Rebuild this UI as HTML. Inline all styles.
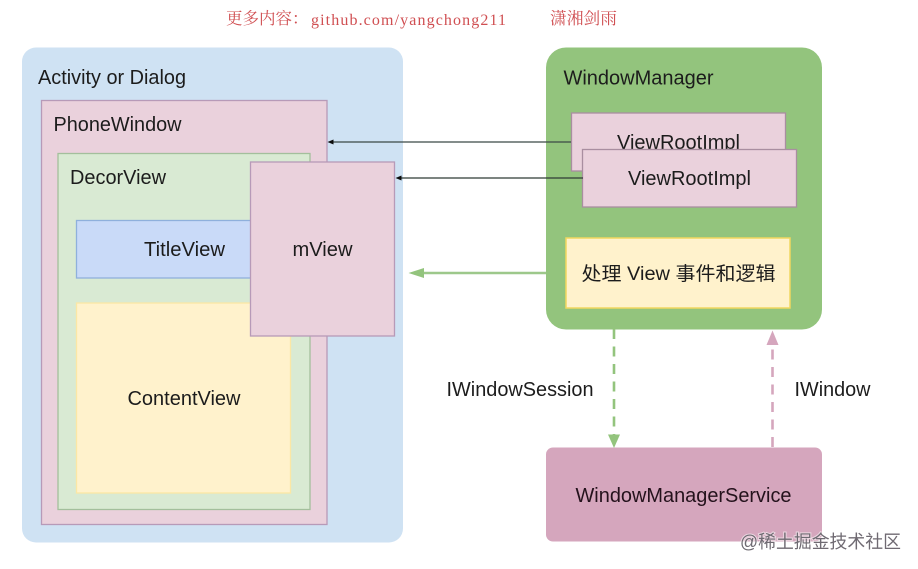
<!DOCTYPE html>
<html><head><meta charset="utf-8"><style>
html,body{margin:0;padding:0;background:#fff;width:918px;height:569px;overflow:hidden}
svg{display:block}
text{font-family:"Liberation Sans","Noto Sans CJK SC",sans-serif;font-size:20px;fill:#1c1c1c}
</style></head><body>
<svg width="918" height="569" viewBox="0 0 918 569" xmlns="http://www.w3.org/2000/svg">
<defs><filter id="b" x="-5%" y="-5%" width="110%" height="110%"><feGaussianBlur stdDeviation="0.35"/></filter></defs>
<g filter="url(#b)">
<rect x="22" y="47.500" width="381" height="495" rx="14" fill="#cfe2f3"/>
<rect x="41.500" y="100.500" width="285.500" height="424" fill="#ead1dc" stroke="#b79ab8" stroke-width="1.300"/>
<rect x="58" y="153.500" width="252" height="356" fill="#d9ead3" stroke="#a3bf9c" stroke-width="1.300"/>
<rect x="76.500" y="220.500" width="190" height="57.500" fill="#c9daf8" stroke="#8fb0dc" stroke-width="1.300"/>
<rect x="76.500" y="303" width="214" height="190" fill="#fff2cc" stroke="#fbe7a5" stroke-width="1.300"/>
<rect x="250.500" y="162" width="144" height="174" fill="#ead1dc" stroke="#b79ab8" stroke-width="1.300"/>
<rect x="546" y="47.500" width="276" height="282" rx="20" fill="#93c47d"/>
<rect x="571.500" y="113" width="214" height="58" fill="#ead1dc" stroke="#a98ea0" stroke-width="1.300"/>
<text x="678.500" y="149" text-anchor="middle" textLength="123" lengthAdjust="spacingAndGlyphs">ViewRootImpl</text>
<rect x="582.500" y="149.500" width="214" height="57.500" fill="#ead1dc" stroke="#a98ea0" stroke-width="1.300"/>
<rect x="566" y="238" width="224" height="70" fill="#fff2cc" stroke="#f1d75f" stroke-width="1.500"/>
<rect x="546" y="447.500" width="276" height="94" rx="7" fill="#d5a6bd"/>
<line x1="571" y1="142" x2="332" y2="142" stroke="#3a4a44" stroke-width="1.300"/>
<polygon points="327.500,142 333.500,139.500 333.500,144.500" fill="#111"/>
<line x1="583" y1="178" x2="400" y2="178" stroke="#2f3b36" stroke-width="1.300"/>
<polygon points="395.500,178 401.500,175.500 401.500,180.500" fill="#111"/>
<line x1="546" y1="273" x2="420" y2="273" stroke="#9dc88b" stroke-width="2.500"/>
<polygon points="408.500,273 424,268 424,278" fill="#93c47d"/>
<line x1="614" y1="329" x2="614" y2="436" stroke="#93c47d" stroke-width="2.600" stroke-dasharray="10 7.500"/>
<polygon points="614,448 608,434.500 620,434.500" fill="#93c47d"/>
<line x1="772.500" y1="447" x2="772.500" y2="342" stroke="#d5a6bd" stroke-width="2.600" stroke-dasharray="10 7.500"/>
<polygon points="772.500,330.500 766.500,345 778.500,345" fill="#d5a6bd"/>
</g>
<text x="38" y="84" textLength="148" lengthAdjust="spacingAndGlyphs">Activity or Dialog</text>
<text x="53.500" y="131" textLength="128" lengthAdjust="spacingAndGlyphs">PhoneWindow</text>
<text x="70" y="184" textLength="96" lengthAdjust="spacingAndGlyphs">DecorView</text>
<text x="144" y="256" textLength="81" lengthAdjust="spacingAndGlyphs">TitleView</text>
<text x="292.500" y="256" textLength="60" lengthAdjust="spacingAndGlyphs">mView</text>
<text x="127.500" y="405" textLength="113" lengthAdjust="spacingAndGlyphs">ContentView</text>
<text x="563.500" y="84.500" textLength="150" lengthAdjust="spacingAndGlyphs">WindowManager</text>
<text x="628" y="185" textLength="123" lengthAdjust="spacingAndGlyphs">ViewRootImpl</text>
<text x="581.500" y="280" textLength="194" lengthAdjust="spacingAndGlyphs" style="font-size:19px">处理 View 事件和逻辑</text>
<text x="446.500" y="396" textLength="147" lengthAdjust="spacingAndGlyphs">IWindowSession</text>
<text x="794.500" y="396" textLength="76" lengthAdjust="spacingAndGlyphs">IWindow</text>
<text x="575.500" y="502" textLength="216" lengthAdjust="spacingAndGlyphs" style="fill:#24121c">WindowManagerService</text>
<text x="226" y="24" style="font-family:'Liberation Serif','Noto Serif CJK SC',serif;font-size:16.5px;fill:#d04f52">更多内容：</text>
<text x="311" y="25" textLength="195" lengthAdjust="spacing" style="font-family:'Liberation Serif',serif;font-size:16px;fill:#d04f52">github.com/yangchong211</text>
<text x="550" y="24" textLength="67" lengthAdjust="spacingAndGlyphs" style="font-family:'Noto Serif CJK SC',serif;font-size:16.500px;fill:#d04f52">潇湘剑雨</text>
<text x="740" y="548" textLength="161" lengthAdjust="spacingAndGlyphs" style="font-size:18px;fill:#6f6a72;stroke:#fff;stroke-width:2px;paint-order:stroke;stroke-opacity:.55">@稀土掘金技术社区</text>
</svg>
</body></html>
